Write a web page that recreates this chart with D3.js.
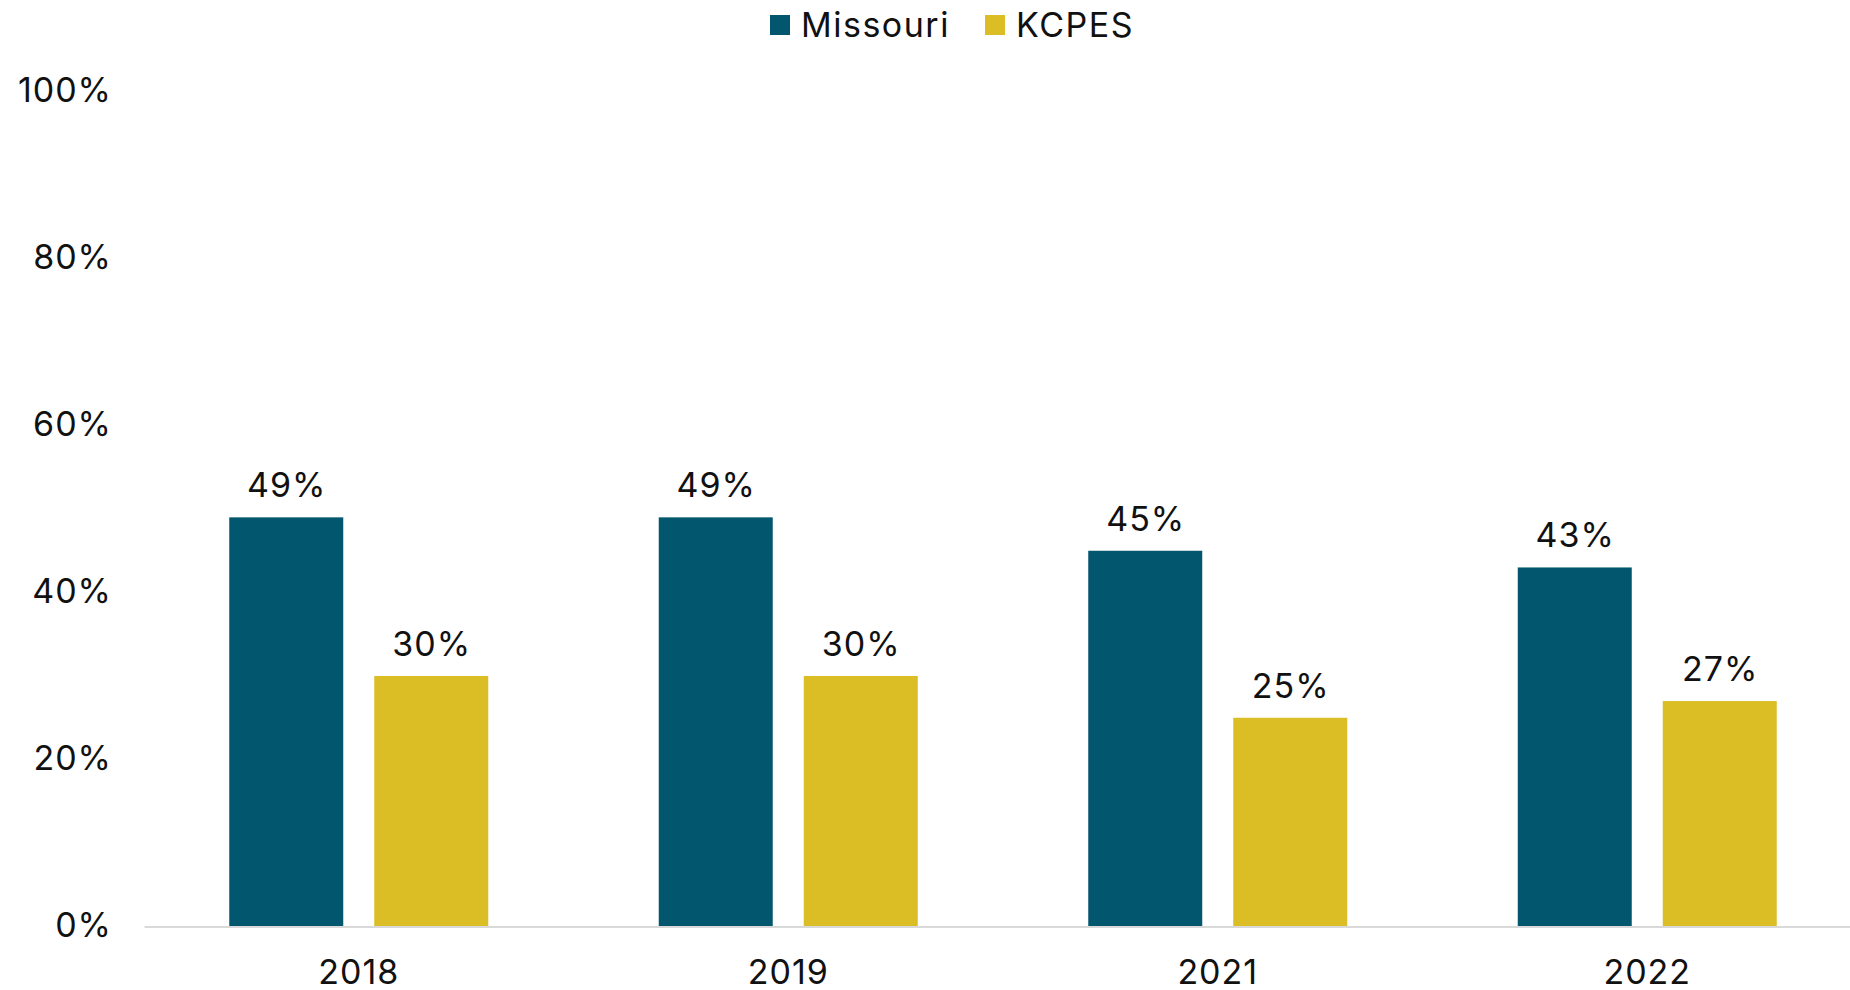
<!DOCTYPE html>
<html>
<head>
<meta charset="utf-8">
<script src="https://cdn.jsdelivr.net/npm/d3@7"></script>
<style>
  html, body { margin: 0; padding: 0; background: #fff; }
  svg { display: block; }
  text { font-family: Inter, "Noto Sans", sans-serif; fill: #111; letter-spacing: 1px; }
</style>
</head>
<body>
<svg id="chart" width="1850" height="990"></svg>
<script>
const years = ["2018", "2019", "2021", "2022"];
const seriesNames = ["Missouri", "KCPES"];
const missouri = [49, 49, 45, 43];
const kcpes = [30, 30, 25, 27];
const yTicks = [0, 20, 40, 60, 80, 100];
const colors = ["#02576f", "#dbbd25"];

const svg = d3.select("#chart");
const x0 = 144, x1 = 1862, yBase = 926.5, yTop = 91.5;
const FS = "34px";

const x = d3.scaleBand().domain(years).range([x0, x1]).paddingInner(0).paddingOuter(0);
const groupW = 259;
const xs = d3.scaleBand().domain(seriesNames).range([0, groupW]).paddingInner(31/145).paddingOuter(0);
const y = d3.scaleLinear().domain([0, 100]).range([yBase, yTop]);

const data = years.map((yr, i) => ({ year: yr, values: [missouri[i], kcpes[i]] }));

// y axis labels
const yAxis = d3.axisLeft(y).tickValues(yTicks).tickFormat(d => d + "%").tickSize(0).tickPadding(0);
const ga = svg.append("g").attr("transform", "translate(112,0)").call(yAxis);
ga.select(".domain").remove();
ga.selectAll("text").style("font-size", FS).style("font-family", "Inter, 'Noto Sans', sans-serif").attr("fill", "#111").attr("dy", "0.3em");

// bars
const groups = svg.append("g").selectAll("g").data(data).join("g")
  .attr("transform", d => `translate(${x(d.year) + (x.bandwidth() - groupW) / 2},0)`);

groups.selectAll("rect").data(d => d.values.map((v, i) => ({ name: seriesNames[i], v, i })))
  .join("rect")
  .attr("x", d => xs(d.name))
  .attr("width", xs.bandwidth())
  .attr("y", d => y(d.v))
  .attr("height", d => y(0) - y(d.v))
  .attr("fill", d => colors[d.i]);

groups.selectAll("text.lbl").data(d => d.values.map((v, i) => ({ name: seriesNames[i], v, i })))
  .join("text")
  .attr("class", "lbl")
  .attr("x", d => xs(d.name) + xs.bandwidth() / 2 + 0.5)
  .attr("y", d => y(d.v) - 20)
  .attr("text-anchor", "middle")
  .style("font-size", FS)
  .text(d => d.v + "%");

// x baseline
const xAxis = d3.axisBottom(x).tickSize(0).tickPadding(0);
const gx = svg.append("g").attr("transform", `translate(0,${yBase})`).call(xAxis);
gx.select(".domain").attr("stroke", "#d9d9d9").attr("stroke-width", 2);
gx.selectAll("text").style("font-size", FS).style("font-family", "Inter, 'Noto Sans', sans-serif").attr("fill", "#111").attr("dy", "0").attr("y", 57);

// legend
const legendX = [770, 985];
const leg = svg.append("g");
seriesNames.forEach((n, i) => {
  leg.append("rect").attr("x", legendX[i]).attr("y", 15).attr("width", 20).attr("height", 20).attr("fill", colors[i]);
  leg.append("text").attr("x", legendX[i] + 31).attr("y", 37).style("font-size", FS).style("letter-spacing", "1.5px").text(n);
});
</script>
</body>
</html>
